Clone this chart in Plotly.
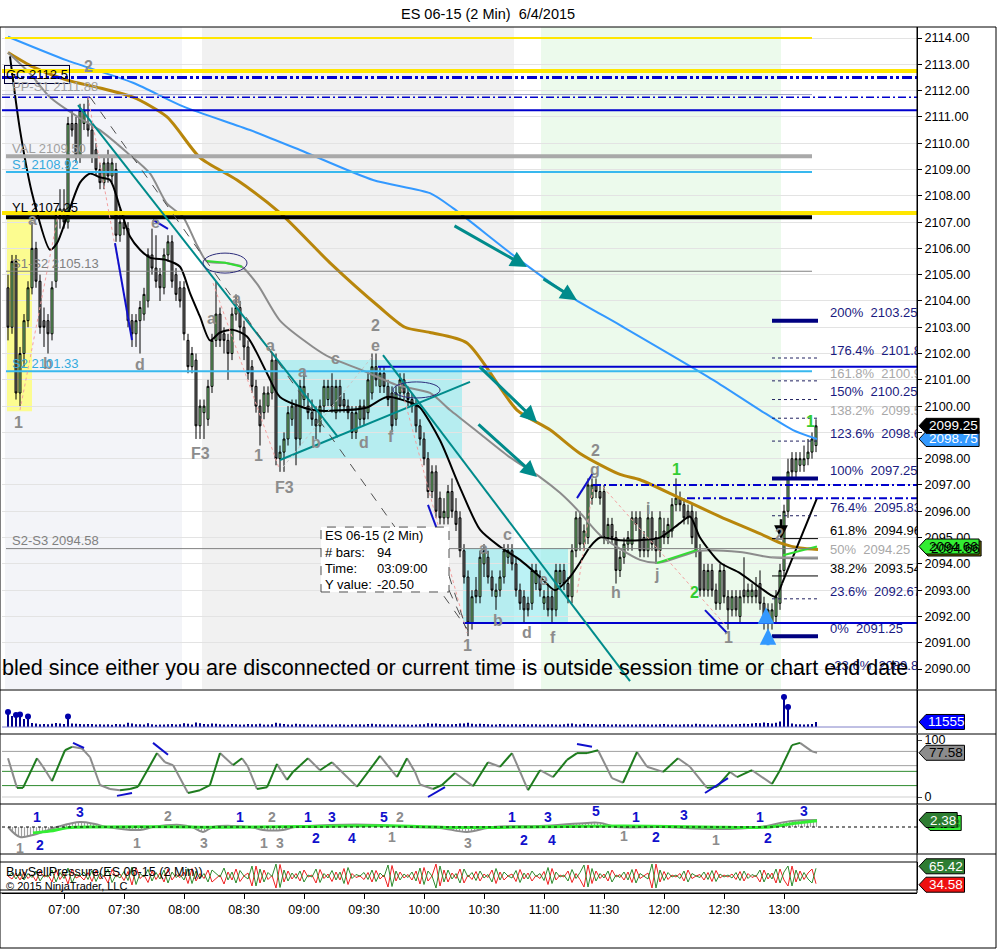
import plotly.graph_objects as go

# ============================ DATA ============================
FIRST_BAR = 392  # 06:32 (minutes after midnight), 2-minute bars

opens = [
    2104.5, 2103, 2105.5, 2100.5, 2102, 2103.25, 2104.5, 2106, 2104.75, 2103.25,
    2103.25, 2102.75, 2104.75, 2107.25, 2107.5, 2107, 2110.75, 2110.75, 2109.5, 2110.75,
    2110.75, 2110.5, 2109.75, 2109, 2108.5, 2109.25, 2108.75, 2109, 2106.5, 2107,
    2106.75, 2103.25, 2102.75, 2103.25, 2103.5, 2104, 2105.75, 2105.25, 2105, 2104.5,
    2105.75, 2106.25, 2105, 2104.5, 2104.5, 2102.5, 2101.5, 2101.75, 2099.25, 2099.75,
    2099.5, 2100.75, 2102.5, 2103.5, 2102.75, 2102.5, 2102, 2103.5, 2103.75, 2103,
    2102.25, 2101.5, 2100.75, 2100, 2099.75, 2100, 2100.5, 2101.75, 2098, 2098.25,
    2098.75, 2099.5, 2100, 2098.75, 2100.25, 2100, 2099.75, 2099.5, 2099.25, 2100,
    2100.25, 2100.75, 2099.75, 2100.75, 2100.25, 2100, 2099.75, 2099, 2099.5, 2100,
    2099.75, 2100.5, 2101.5, 2100.75, 2101.25, 2100.75, 2100.5, 2099.5, 2100.5, 2101,
    2100.5, 2100.25, 2100, 2099.25, 2098.75, 2098, 2096.75, 2097.5, 2096.5, 2095.75,
    2095.75, 2096.75, 2096, 2095.75, 2094.5, 2093.5, 2091.75, 2093, 2092.75, 2094,
    2094.25, 2093.5, 2092.75, 2093, 2093.5, 2094.25, 2094.5, 2094, 2093, 2092.75,
    2092.5, 2092.5, 2093.25, 2093.5, 2092.5, 2092.75, 2092.75, 2092.25, 2093.25, 2093.75,
    2093.25, 2092.75, 2094.5, 2095.75, 2094.75, 2095, 2096.5, 2097, 2096.75, 2096.75,
    2095, 2095.5, 2095, 2093.75, 2094.25, 2094.75, 2094.75, 2095.75, 2095.75, 2095,
    2094.5, 2095.75, 2095, 2094.5, 2095.25, 2095, 2095.25, 2096.25, 2096.5, 2096.25,
    2096, 2096, 2095.75, 2094.5, 2093.75, 2093, 2093.75, 2093, 2092.5, 2093.75,
    2092.75, 2092.25, 2092.75, 2092, 2093, 2092.75, 2092.75, 2093, 2093.25, 2092.5,
    2091.75, 2091.75, 2092, 2092.5, 2093.75, 2096, 2098, 2097.5, 2097.75, 2097.75,
    2098, 2098.25, 2098.5,
]
highs = [
    2105, 2105.75, 2105.75, 2102.25, 2103.5, 2104.75, 2107, 2106.25, 2105, 2103.75,
    2103.5, 2104.75, 2107.5, 2108.25, 2108.25, 2111, 2111.25, 2111, 2111.5, 2111.5,
    2111.75, 2110.75, 2110, 2109.25, 2109.5, 2109.75, 2109.5, 2109.25, 2107.5, 2107.25,
    2107, 2103.5, 2103.5, 2104, 2104.5, 2106, 2106.75, 2106.5, 2105.25, 2106,
    2106.5, 2106.5, 2105.25, 2104.75, 2104.75, 2102.75, 2102.25, 2102, 2100.25, 2100.25,
    2101, 2102.75, 2104.75, 2103.75, 2103, 2102.75, 2103.75, 2104.25, 2104, 2103.25,
    2102.5, 2101.75, 2101, 2100.25, 2100.75, 2100.75, 2102, 2102, 2098.5, 2099,
    2100, 2100.25, 2100.25, 2101, 2101.25, 2100.5, 2100.25, 2100, 2100.25, 2101,
    2101, 2101.25, 2101, 2101, 2100.5, 2100.25, 2100, 2100, 2100.25, 2100.25,
    2101.25, 2102, 2102, 2101.5, 2101.5, 2101, 2100.75, 2100.75, 2101.25, 2101.25,
    2100.75, 2100.5, 2100.25, 2099.5, 2099, 2098.25, 2097.75, 2097.75, 2096.75, 2096.5,
    2097, 2097.25, 2096.5, 2096, 2094.75, 2093.75, 2093, 2093.5, 2094.5, 2094.75,
    2094.5, 2093.75, 2093.25, 2093.75, 2094.75, 2094.75, 2094.75, 2094.25, 2093.25, 2093,
    2092.75, 2094, 2094, 2093.75, 2093, 2093.25, 2093, 2094, 2094, 2094,
    2093.5, 2094.75, 2096, 2096, 2095.5, 2097.25, 2097.25, 2097.25, 2097, 2097,
    2095.75, 2095.75, 2095.25, 2094.5, 2095, 2095.25, 2096, 2096, 2096, 2095.25,
    2096.25, 2096, 2095.25, 2096, 2095.75, 2095.75, 2096.5, 2097.25, 2096.75, 2096.5,
    2096.25, 2096.25, 2096, 2094.75, 2094, 2094, 2094, 2093.25, 2094, 2094,
    2093, 2093, 2093, 2093, 2094.25, 2093.25, 2093.25, 2093.5, 2093.75, 2092.75,
    2092.5, 2092.5, 2093, 2094, 2096.25, 2098, 2098.25, 2098.25, 2098.25, 2098.5,
    2098.75, 2099, 2099.5,
]
lows = [
    2102.5, 2102.75, 2100.25, 2100, 2101.5, 2103, 2104.25, 2104.5, 2102.75, 2102.25,
    2102, 2102.5, 2104.5, 2106.75, 2106.75, 2106.75, 2110.25, 2109.25, 2109.25, 2110.5,
    2110.25, 2109.25, 2108.75, 2108.25, 2108.25, 2108.5, 2108.5, 2106.25, 2106.25, 2106.5,
    2103, 2102.25, 2102.25, 2102, 2103.25, 2103.75, 2105, 2104.5, 2104, 2104.25,
    2105.5, 2104.5, 2104, 2103.75, 2102.5, 2101.25, 2101.25, 2098.75, 2098.75, 2098.75,
    2099.25, 2100.5, 2102.25, 2102.25, 2102, 2101, 2101.75, 2103.25, 2102.5, 2101.75,
    2101, 2100.5, 2099.75, 2098.5, 2099.5, 2099.75, 2100.25, 2097.75, 2097.5, 2097.5,
    2098.5, 2099.25, 2097.75, 2098.5, 2100, 2099.5, 2099.25, 2098.75, 2099, 2099.75,
    2100, 2099.75, 2099.5, 2099.75, 2099.75, 2099.5, 2098.75, 2098.75, 2099.25, 2099.25,
    2099.5, 2100.25, 2100.75, 2100.5, 2100.5, 2100, 2099, 2099.25, 2100.25, 2100.25,
    2100, 2099.75, 2099, 2098.5, 2097.75, 2096.5, 2096.5, 2095.75, 2095.5, 2095.5,
    2095.5, 2095.75, 2095.25, 2094.25, 2093.25, 2091.25, 2091.5, 2092.5, 2092.5, 2093.5,
    2093.25, 2092.75, 2092.25, 2092.75, 2093.25, 2094, 2093.75, 2092.75, 2092.25, 2091.75,
    2092, 2092.25, 2093, 2092.75, 2092.25, 2092, 2091.75, 2092, 2093, 2093,
    2092.5, 2092.5, 2094.25, 2094.5, 2094.5, 2094.75, 2096.25, 2096.5, 2096.25, 2094.75,
    2094.75, 2094.75, 2093.25, 2093.5, 2094, 2094.5, 2094.5, 2095.25, 2094.25, 2094.25,
    2094.25, 2094.5, 2094, 2094.25, 2094.75, 2094.75, 2095, 2096, 2096, 2095.5,
    2095.5, 2094.75, 2094.25, 2092.75, 2092.75, 2092.75, 2092.75, 2092.25, 2092.25, 2092.5,
    2091.5, 2092, 2092, 2091.75, 2092.5, 2092.5, 2092.5, 2092.5, 2092.25, 2091.5,
    2091.25, 2091.5, 2091.75, 2092.25, 2093.5, 2095.75, 2097.25, 2097.25, 2097.5, 2097.5,
    2097.75, 2098, 2098.25,
]
closes = [
    2103, 2105.5, 2100.5, 2102, 2103.25, 2104.5, 2106, 2104.75, 2103, 2103,
    2102.75, 2104.5, 2107.25, 2107.5, 2107, 2110.75, 2110.5, 2109.5, 2111.25, 2111.25,
    2110.5, 2109.5, 2109, 2108.5, 2109.25, 2108.75, 2109.25, 2106.5, 2107, 2106.75,
    2103.25, 2102.75, 2103.25, 2103.75, 2104.25, 2105.75, 2105.25, 2104.75, 2104.5, 2105.75,
    2106.25, 2104.75, 2104.25, 2104, 2102.75, 2101.5, 2102, 2099.25, 2100, 2100,
    2100.75, 2102.5, 2103.5, 2102.5, 2102.5, 2102, 2103.5, 2103.75, 2103, 2102.25,
    2101.25, 2100.75, 2100, 2099.25, 2100.5, 2100.5, 2101.75, 2098, 2098.25, 2098.75,
    2099.75, 2100, 2098.75, 2100.75, 2100.75, 2099.75, 2099.5, 2099.25, 2100, 2100.75,
    2100.75, 2100, 2100.75, 2100, 2100, 2099.75, 2099, 2099.75, 2100, 2099.5,
    2101, 2101.5, 2101, 2101.25, 2100.75, 2100.25, 2099.25, 2100.5, 2101, 2100.5,
    2100.25, 2100, 2099.25, 2098.75, 2098, 2096.75, 2097.5, 2096, 2095.75, 2096,
    2096.75, 2096, 2095.5, 2094.5, 2093.5, 2091.75, 2092.75, 2092.75, 2094.25, 2094.5,
    2093.5, 2093, 2093, 2093.5, 2094.5, 2094.5, 2094, 2093, 2092.5, 2092.25,
    2092.25, 2093.75, 2093.75, 2093, 2092.75, 2092.25, 2092.25, 2093.75, 2093.75, 2093.25,
    2092.75, 2094.5, 2095.75, 2094.75, 2095.25, 2097, 2097, 2096.75, 2096.5, 2095,
    2095.5, 2095, 2093.75, 2094.25, 2094.75, 2095, 2095.75, 2095.5, 2094.5, 2094.5,
    2095.75, 2094.75, 2094.5, 2095.75, 2095, 2095.5, 2096.25, 2096.5, 2096.25, 2095.75,
    2095.75, 2095, 2094.5, 2093, 2093, 2093.75, 2093, 2092.5, 2093.75, 2092.75,
    2092.25, 2092.75, 2092.25, 2092.75, 2092.75, 2093, 2093, 2092.75, 2092.5, 2091.75,
    2092.25, 2092.25, 2092.75, 2093.75, 2096, 2097.5, 2097.5, 2098, 2098, 2098,
    2098.25, 2098.75, 2099.25,
]
volumes = [
    34500, 25300, 27600, 28700, 18400, 24150, 9200, 8100, 6400, 6900,
    6200, 7400, 9000, 7800, 6900, 24150, 8300, 7600, 6800, 6400,
    7100, 6900, 5800, 6300, 5600, 6100, 5400, 7000, 6500, 5900,
    9800, 8200, 6600, 6100, 5900, 8700, 6400, 5200, 6000, 5600,
    6200, 6800, 5900, 6100, 8800, 7300, 5900, 10500, 8600, 7000,
    6400, 8100, 7600, 6200, 5800, 5900, 6700, 6100, 5600, 6000,
    6900, 6400, 6100, 7400, 6000, 5800, 6300, 9600, 7900, 6700,
    6000, 5800, 7200, 6500, 6100, 5500, 5700, 6000, 5900, 6400,
    6000, 5700, 5900, 6200, 5600, 5400, 6100, 5900, 6300, 5800,
    6800, 7600, 6500, 6100, 6000, 5800, 6400, 6000, 5900, 5500,
    5700, 5300, 5800, 6200, 6500, 8400, 7600, 8000, 7000, 6600,
    6200, 6400, 7100, 7900, 8300, 9500, 7600, 6300, 7400, 6800,
    6600, 6000, 5800, 6900, 6300, 5900, 6100, 6400, 6000, 6800,
    5700, 6200, 6300, 5600, 5900, 6500, 6200, 5700, 5800, 6400,
    7200, 7800, 6600, 6000, 7400, 6900, 6200, 5800, 6100, 6900,
    6000, 5700, 6400, 5900, 5600, 6200, 6000, 5800, 6400, 6100,
    5500, 5700, 6000, 6300, 6800, 5900, 5600, 6000, 5800, 6600,
    6200, 5900, 7300, 6400, 6100, 5800, 6000, 5700, 6200, 6600,
    5900, 6100, 6500, 6900, 7400, 6800, 8100, 9200, 8600, 10400,
    9000, 8200, 9600, 12400, 69000, 46000, 7800, 6600, 6200, 5900,
    6400, 7000, 11555,
]
vol_dot_bars = [0, 2, 3, 5, 15, 194, 195]
buy_pressure = [
    50, 56, 44, 58, 42, 55, 47, 60, 40, 52,
    48, 62, 38, 57, 45, 66, 36, 54, 50, 58,
    43, 61, 39, 56, 49, 64, 37, 52, 46, 59,
    41, 68, 33, 55, 48, 63, 40, 57, 44, 62,
    36, 58, 47, 53, 42, 65, 35, 60, 45, 55,
    38, 62, 55, 48, 66, 42, 58, 36, 61, 50,
    44, 70, 30, 64, 38, 57, 49, 74, 27, 62,
    40, 56, 45, 60, 38, 52, 48, 64, 37, 55,
    46, 61, 42, 58, 35, 67, 45, 53, 50, 57,
    43, 62, 39, 56, 48, 72, 29, 60, 42, 54,
    47, 58, 40, 66, 33, 60, 50, 26, 70, 38,
    62, 44, 55, 36, 64, 48, 57, 41, 60, 46,
    53, 38, 65, 42, 58, 50, 46, 61, 37, 56,
    44, 60, 49, 55, 41, 67, 35, 58, 48, 52,
    40, 63, 45, 57, 72, 28, 65, 40, 55, 46,
    60, 38, 52, 47, 58, 42, 63, 36, 55, 49,
    44, 74, 26, 62, 41, 57, 48, 52, 45, 60,
    38, 55, 50, 47, 58, 43, 61, 39, 54, 48,
    52, 46, 57, 41, 60, 45, 53, 49, 62, 38,
    56, 44, 64, 36, 58, 70, 30, 62, 40, 57,
    44, 36, 65.42,
]
times = [FIRST_BAR + 2 * i for i in range(len(closes))]

# moving averages (vertices; x in minutes after midnight)
ma_blue_t = [392, 421.5, 454.5, 479.5, 513, 538, 574.5, 603, 614.5, 646.5, 674.5, 698, 744.5, 768, 784.5, 796.5]
ma_blue_v = [2114.05, 2113.15, 2112.3, 2111.4, 2110.5, 2109.74, 2108.6, 2108.1, 2107.53, 2105.63, 2104.11, 2103.08, 2101.0, 2099.85, 2099.09, 2098.75]
ma_brown_t = [392, 404.5, 421.5, 438, 454.5, 471.5, 488, 506.5, 528, 553, 578, 590.5, 603, 621.5, 646.5, 663, 678, 698, 708, 728, 748, 768, 778, 788, 797]
ma_brown_v = [2113.45, 2112.9, 2112.4, 2112.1, 2111.75, 2111.0, 2109.45, 2108.6, 2107.35, 2105.45, 2103.75, 2103.0, 2102.8, 2102.4, 2099.85, 2099.1, 2098.2, 2097.4, 2097.2, 2096.5, 2095.8, 2095.15, 2094.8, 2094.6, 2094.55]
ma_gray_t = [392, 403, 413, 428, 438, 451.5, 463, 471.5, 479.5, 486, 491.5, 500.5, 509, 517, 528, 544.5, 553, 569.5, 586.5, 603, 613, 628, 643, 658, 668, 678, 688, 708, 718, 738, 758, 773, 797]
ma_gray_v = [2113.45, 2112.65, 2111.75, 2110.95, 2110.5, 2109.65, 2108.85, 2107.7, 2107.2, 2106.2, 2105.5, 2105.45, 2105.3, 2104.6, 2103.25, 2102.25, 2101.85, 2101.35, 2100.8, 2100.5, 2099.85, 2098.95, 2098.05, 2097.3, 2096.7, 2095.95, 2095.1, 2094.15, 2094.05, 2094.5, 2094.45, 2094.25, 2094.2]
ma_black_t = [393, 398, 404.5, 413, 416.5, 421.5, 428, 433, 438, 443, 448, 453, 458, 463, 471.5, 478, 483, 488, 493, 498, 504.5, 511.5, 521.5, 528, 544.5, 561.5, 571.5, 581.5, 594.5, 598, 608, 618, 628, 638, 648, 658, 665.5, 673, 678, 683, 688, 698, 708, 718, 728, 733, 738, 748, 758, 768, 775.5, 779]
ma_black_v = [2113.3, 2110.5, 2107.95, 2105.95, 2106.2, 2107.2, 2108.5, 2108.85, 2108.7, 2108.6, 2107.55, 2106.45, 2105.95, 2105.65, 2105.55, 2105.3, 2104.3, 2103.4, 2102.5, 2102.8, 2102.9, 2102.65, 2101.25, 2100.35, 2099.85, 2099.85, 2099.95, 2100.35, 2100.1, 2099.95, 2098.7, 2096.9, 2095.3, 2094.65, 2094.15, 2093.5, 2093.0, 2093.5, 2094.05, 2094.65, 2095.0, 2094.9, 2094.9, 2095.0, 2095.55, 2095.8, 2095.0, 2094.05, 2093.65, 2093.1, 2092.75, 2093.25]
green_seg_t = [[491.5, 500.5, 509], [716.5, 736.5], [779.5, 796.5]]
green_seg_v = [[2105.52, 2105.45, 2105.3], [2094.03, 2094.53], [2094.33, 2094.66]]

# oscillator panel
osc_t = [392, 396.5, 399.5, 406.5, 409.5, 414, 420.5, 424, 429, 433, 438, 443, 448, 453, 457, 466.5, 470.5, 474.5, 482, 488, 493, 498, 504.5, 509, 512, 516.5, 521.5, 526.5, 531.5, 534.5, 542, 548, 554, 566.5, 578, 586.5, 591.5, 595.5, 598, 604.5, 609, 615.5, 624.5, 632, 638, 644, 652, 658, 664.5, 671.5, 676.5, 681.5, 687, 694, 699.5, 706.5, 711.5, 719.5, 727, 733, 741.5, 746.5, 753, 756.5, 764, 774, 778, 784, 788, 794, 796.5]
osc_v = [68, 16, 16, 68, 53, 28, 82, 88, 85, 70, 21, 14, 12, 14, 18, 77, 61, 56, 7, 12, 21, 77, 56, 68, 53, 14, 17, 58, 30, 44, 68, 47, 61, 18, 72, 35, 68, 44, 22, 14, 21, 42, 19, 61, 53, 77, 12, 47, 35, 65, 77, 77, 82, 33, 25, 79, 53, 44, 68, 53, 16, 18, 44, 35, 47, 23, 47, 91, 95, 80, 77.58]
osc_levels_gray = [80, 55, 0]
osc_levels_green = [45, 20]

# momentum panel
mom_gray_t = [392, 398, 404.5, 410.5, 416.5, 428, 435.5, 441.5, 458, 464.5, 478, 484, 489.5, 494.5, 513, 519.5, 529.5, 535.5, 553, 578, 593, 608, 621.5, 634.5, 658, 681.5, 688, 696.5, 718, 746.5, 768, 783, 796.5]
mom_gray_v = [0, -3.4, -2.7, -1.4, 0, 1.7, 1.0, 0, -1.0, 0, 0.7, 0, -1.7, 0, 0, -1.0, -1.0, 0, 0.7, 0.7, 0, -0.3, -1.7, 0, 0.3, 1.4, 1.4, 0, 0, -0.7, 0, 2.0, 2.38]
mom_green_t = [404.5, 413, 421.5, 438, 470, 500, 540, 580, 620, 660, 700, 740, 773, 783, 796.5]
mom_green_v = [-2.0, -1.4, -0.3, 0, 0.1, -0.1, 0.2, 0.4, -0.2, 0.1, 0.3, 0, 0, 1.0, 2.1]
mom_labels = [
    (406.5, 3.4, '1', 'b'), (408, -6.1, '2', 'b'), (398, -7.2, '1', 'g'), (428, 5.2, '3', 'b'),
    (456.5, -5.4, '1', 'g'), (472, 3.7, '2', 'g'), (490, -5.4, '3', 'g'), (508, 3.4, '1', 'b'),
    (524, 3.4, '2', 'g'), (520, -5.4, '1', 'g'), (528, -5.4, '3', 'g'), (542, 3.4, '1', 'b'),
    (554, 3.4, '3', 'b'), (546, -3.7, '2', 'b'), (564, -3.7, '4', 'b'), (580, 3.4, '5', 'b'),
    (588, 3.4, '2', 'g'), (584, -3.4, '1', 'g'), (622, -5.4, '3', 'g'), (644, 3.4, '1', 'b'),
    (650, -4.4, '2', 'b'), (662, 3.4, '3', 'b'), (664, -4.4, '4', 'b'), (686, 5.4, '5', 'b'),
    (700, -3.1, '1', 'g'), (706, 3.4, '1', 'b'), (716, -3.4, '2', 'b'), (730, 4.1, '3', 'b'),
    (746, -4.4, '1', 'g'), (768, 3.4, '1', 'b'), (772, -3.7, '2', 'b'), (790, 5.4, '3', 'b'),
]

# swing labels on the price panel (minute, price, text, colour key)
swing_labels = [
    (397, 2099.39, '1', 'g'), (432, 2112.9, '2', 'g'), (404, 2107.08, 'a', 'g'), (412, 2101.64, 'b', 'g'),
    (458, 2101.6, 'd', 'g'), (465.5, 2107.0, 'e', 'g'), (493.5, 2103.35, 'a', 'g'), (506, 2104.1, 'a', 'g'),
    (488, 2098.2, 'F3', 'g'), (523, 2102.3, 'a', 'g'), (517, 2098.14, '1', 'g'), (530, 2096.9, 'F3', 'g'),
    (539, 2101.3, 'a', 'g'), (546, 2098.6, 'b', 'g'), (555.5, 2101.8, 'c', 'g'), (570, 2098.6, 'd', 'g'),
    (575.5, 2102.3, 'e', 'g'), (575.5, 2103.05, '2', 'g'), (583.5, 2098.86, 'f', 'g'), (621.5, 2090.9, '1', 'g'),
    (629.5, 2094.6, 'a', 'g'), (637, 2091.86, 'b', 'g'), (641.5, 2095.1, 'c', 'g'), (651.5, 2091.4, 'd', 'g'),
    (659.5, 2093.4, 'e', 'g'), (664.5, 2091.2, 'f', 'g'), (685.5, 2098.3, '2', 'g'), (685.5, 2097.6, 'g', 'g'),
    (696, 2092.9, 'h', 'g'), (712, 2096.1, 'i', 'g'), (716, 2093.6, 'j', 'g'), (726, 2097.6, '1', 'G'),
    (735, 2092.9, '2', 'G'), (752, 2091.2, '1', 'g'), (777.5, 2095.1, '2', 'g'), (793, 2099.4, '1', 'G'),
]

# Fibonacci extension (low 2091.25 -> high 2097.25)
fib_pcts = ['200%', '176.4%', '161.8%', '150%', '138.2%', '123.6%', '100%', '76.4%', '61.8%', '50%', '38.2%', '23.6%', '0%', '-23.6%']
fib_levels = [2103.25, 2101.83, 2100.96, 2100.25, 2099.54, 2098.67, 2097.25, 2095.83, 2094.96, 2094.25, 2093.54, 2092.67, 2091.25, 2089.83]

tick_minutes = [420, 450, 480, 510, 540, 570, 600, 630, 660, 690, 720, 750, 780]
tick_text = ['07:00', '07:30', '08:00', '08:30', '09:00', '09:30', '10:00', '10:30', '11:00', '11:30', '12:00', '12:30', '13:00']
price_ticks = list(range(2090, 2115))

# ============================ LAYOUT GEOMETRY ============================
W, H = 997, 949
L_PX, R_PX, T_PX, B_PX = 2, 917, 27, 893
X_RANGE = [389, 846.5]
MAIN_RANGE = [2089.24, 2114.42]
VOL_RANGE = [-13800, 85100]
OSC_RANGE = [-12.28, 108.77]
MOM_RANGE = [-8.84, 7.48]
BSP_RANGE = [22, 78]
PANELS = {'y': (27, 689), 'y2': (690, 733), 'y3': (735, 804), 'y4': (805, 853), 'y5': (862, 890)}
RANGES = {'y': MAIN_RANGE, 'y2': VOL_RANGE, 'y3': OSC_RANGE, 'y4': MOM_RANGE, 'y5': BSP_RANGE}


def fx(px):
    return (px - L_PX) / (R_PX - L_PX)


def fy(py):
    return (B_PX - py) / (B_PX - T_PX)


def dom(key):
    top, bot = PANELS[key]
    return [fy(bot), fy(top)]


def val_px(key, v):
    top, bot = PANELS[key]
    r0, r1 = RANGES[key]
    return bot - (v - r0) / (r1 - r0) * (bot - top)


FONT = 'Arial, Liberation Sans, sans-serif'
GRAY_LBL = '#8C8C8C'
NAVY = '#0000CD'
TEAL = '#008B8B'
X_END = X_RANGE[1]

shapes = []
annotations = []


def hline(y, x0, x1, color, width, dash='solid', yref='y', layer='above'):
    shapes.append(dict(type='line', xref='x', yref=yref, x0=x0, x1=x1, y0=y, y1=y,
                       line=dict(color=color, width=width, dash=dash), layer=layer))


def seg(x0, y0, x1, y1, color, width, dash='solid', yref='y'):
    shapes.append(dict(type='line', xref='x', yref=yref, x0=x0, y0=y0, x1=x1, y1=y1,
                       line=dict(color=color, width=width, dash=dash), layer='above'))


def rect(x0, x1, y0, y1, fill, layer='below', line=None, yref='y'):
    shapes.append(dict(type='rect', xref='x', yref=yref, x0=x0, x1=x1, y0=y0, y1=y1,
                       fillcolor=fill, line=line or dict(width=0), layer=layer))


def text(x, y, s, color='black', size=13, bold=False, xanchor='left', yanchor='middle', yref='y', xref='x', **kw):
    annotations.append(dict(x=x, y=y, xref=xref, yref=yref, text=('<b>%s</b>' % s) if bold else s,
                            showarrow=False, xanchor=xanchor, yanchor=yanchor,
                            font=dict(family=FONT, size=size, color=color), **kw))


def paper_line(x0, y0, x1, y1, color='black', width=1):
    shapes.append(dict(type='line', xref='paper', yref='paper', x0=fx(x0), y0=fy(y0), x1=fx(x1), y1=fy(y1),
                       line=dict(color=color, width=width), layer='above'))


def value_box(ypx, s, fill, fcolor, xtip=919, dx=0):
    w = 9 + 7.3 * len(s)
    h = 15
    x0, x1, x2 = xtip + dx, xtip + dx + 7, xtip + dx + w
    path = 'M %f,%f L %f,%f L %f,%f L %f,%f L %f,%f Z' % (
        fx(x0), fy(ypx), fx(x1), fy(ypx - h / 2), fx(x2), fy(ypx - h / 2),
        fx(x2), fy(ypx + h / 2), fx(x1), fy(ypx + h / 2))
    shapes.append(dict(type='path', xref='paper', yref='paper', path=path, fillcolor=fill,
                       line=dict(color='black', width=1), layer='above'))
    annotations.append(dict(xref='paper', yref='paper', x=fx((x1 + x2) / 2 + 1), y=fy(ypx), text=s,
                            showarrow=False, xanchor='center', yanchor='middle',
                            font=dict(family=FONT, size=13.5, color=fcolor)))


# ---------------- background bands / boxes (price panel) ----------------
rect(390.5, 479, MAIN_RANGE[0], MAIN_RANGE[1], '#F3F4F8')
rect(489, 645, MAIN_RANGE[0], MAIN_RANGE[1], '#F1F1F1')
rect(658.5, 778.5, MAIN_RANGE[0], MAIN_RANGE[1], '#ECFAEC')
rect(391.5, 404, 2099.8, 2107.2, 'rgba(255,255,110,0.75)')
rect(525.5, 619, 2098.0, 2101.75, 'rgba(150,235,240,0.65)')
rect(619.5, 672, 2091.75, 2094.6, 'rgba(150,235,240,0.65)')

# ---------------- horizontal levels ----------------
LV_END = 794
hline(2114.0, 390.5, LV_END, '#FFE600', 2)
hline(2112.75, 389, X_END, '#FFE600', 4)
hline(2112.5, 389, X_END, NAVY, 3, '10px,3px,3px,3px,3px,3px')
hline(2111.85, 389, LV_END, '#A0A4C8', 1)
hline(2111.75, 389, X_END, NAVY, 1.5, '8px,3px,2px,3px')
hline(2111.25, 389, X_END, NAVY, 2)
hline(2109.5, 391, LV_END, '#A9A9A9', 4)
hline(2108.9, 391, LV_END, '#38B8EE', 2)
hline(2107.35, 389, X_END, '#FFE600', 4)
hline(2107.18, 391, LV_END, '#000000', 4)
hline(2105.13, 391, LV_END, '#808080', 1)
hline(2101.33, 391, LV_END, '#38B8EE', 2)
hline(2101.5, 577, X_END, NAVY, 2)
hline(2097.0, 684.5, X_END, NAVY, 2, '8px,3px,2px,3px')
hline(2096.5, 731.5, X_END, NAVY, 2, '8px,3px,2px,3px')
hline(2094.58, 391, LV_END, '#808080', 1)
hline(2091.75, 619.5, X_END, NAVY, 2)

# fib lines
fib_style = {'200%': ('#000080', 4, 'solid'), '100%': ('#000080', 4, 'solid'), '0%': ('#000080', 4, 'solid'),
             '61.8%': ('#000000', 1, 'solid'), '38.2%': ('#000000', 1, 'solid'), '50%': ('#999999', 1.5, 'solid')}
fib_text_col = {'161.8%': '#A8A8A8', '138.2%': '#A8A8A8', '50%': '#A8A8A8', '61.8%': '#000000', '38.2%': '#000000'}
for pct, lv in zip(fib_pcts, fib_levels):
    col, wd, ds = fib_style.get(pct, ('#202060', 1, 'dot'))
    hline(lv, 774, 797, col, wd, ds)

# ---------------- drawings ----------------
# teal trend lines
seg(427, 2111.45, 557, 2098.82, TEAL, 2)
seg(528, 2097.95, 623, 2100.92, TEAL, 2)
seg(579.5, 2101.94, 703, 2089.54, TEAL, 2)
# zigzag / measuring lines
seg(398, 2099.85, 417, 2107.27, '#F4A0A0', 1, 'dot')
seg(432, 2111.76, 454, 2102.51, '#F4A0A0', 1, 'dot')
seg(494.5, 2104.68, 527.5, 2097.64, '#F4A0A0', 1, 'dot')
seg(529.5, 2097.68, 574, 2101.87, '#C8C8C8', 1, 'dot')
seg(588, 2100.88, 621.5, 2091.37, '#F4A0A0', 1, 'dot')
seg(689.5, 2096.92, 751.5, 2091.6, '#F4A0A0', 1, 'dot')
seg(676.5, 2092.9, 684.5, 2096.9, '#F4A0A0', 1, 'dot')
seg(433, 2111.76, 622, 2091.48, '#505050', 1, 'dash')
seg(612.5, 2093.55, 621, 2091.56, '#505050', 1, 'dash')
seg(612.5, 2093.0, 621, 2091.56, '#505050', 1, 'dash')
# blue divergence marks
seg(445.5, 2106.2, 454, 2102.51, '#1010CC', 2)
seg(464.5, 2107.08, 472, 2106.74, '#1010CC', 2)
seg(602, 2096.24, 610, 2094.6, '#1010CC', 2)
seg(676.5, 2096.5, 684.5, 2097.45, '#1010CC', 2)
seg(740.5, 2092.24, 751.5, 2091.37, '#1010CC', 2)
# ellipses
shapes.append(dict(type='circle', xref='x', yref='y', x0=489.5, x1=511.5, y0=2105.06, y1=2105.82,
                   line=dict(color='#2B2B7A', width=1), layer='above'))
shapes.append(dict(type='circle', xref='x', yref='y', x0=584.5, x1=608, y0=2100.31, y1=2100.92,
                   line=dict(color='#2B2B7A', width=1), layer='above'))
# info box
rect(548.5, 612.5, 2092.93, 2095.4, 'white', layer='above', line=dict(color='#505050', width=1, dash='dash'))

# arrows
for (hx, hy, tx, ty, col, wd) in [(651.5, 2105.29, 614.5, 2106.89, TEAL, 3), (676.5, 2104.03, 659, 2104.87, TEAL, 3),
                                  (656.5, 2099.39, 627, 2101.56, TEAL, 3), (656.5, 2097.3, 626.5, 2099.36, TEAL, 3),
                                  (778.5, 2094.95, 778.5, 2095.75, '#000000', 2.5),
                                  (771, 2092.35, 771, 2091.7, '#3399FF', 3), (772, 2091.55, 772, 2090.85, '#3399FF', 3)]:
    annotations.append(dict(x=hx, y=hy, ax=tx, ay=ty, xref='x', yref='y', axref='x', ayref='y', text='',
                            showarrow=True, arrowhead=2, arrowsize=1.1, arrowwidth=wd, arrowcolor=col))

# ---------------- texts on price panel ----------------
lbl_col = {'g': GRAY_LBL, 'G': '#33CC33'}
for (t, p, s, c) in swing_labels:
    text(t, p, s, color=lbl_col[c], size=16, bold=True, xanchor='center')

text(390, 2112.6, 'GC 2112.5', color='black', size=13, bordercolor='#000033', borderwidth=1, borderpad=1)
text(393, 2112.14, 'PP-S1 2111.88', color='#A0A0A0')
text(393, 2109.78, 'VAL 2109.50', color='#A0A0A0')
text(393, 2109.2, 'S1 2108.92', color='#33AADD')
text(393, 2107.57, 'YL 2107.25', color='black')
text(393, 2105.44, 'S1-S2 2105.13', color='#808080')
text(393, 2101.64, 'S2 2101.33', color='#33AADD')
text(393, 2094.87, 'S2-S3 2094.58', color='#808080')

text(549.5, 2095.06, 'ES 06-15 (2 Min)')
text(549.5, 2094.45, '# bars:')
text(575.5, 2094.45, '94')
text(549.5, 2093.84, 'Time:')
text(575.5, 2093.84, '03:09:00')
text(549.5, 2093.23, 'Y value:')
text(575.5, 2093.23, '-20.50')

text(843, 2090.05, 'bled since either you are disconnected or current time is outside session time or chart end date',
     color='black', size=21.6, xanchor='right')

# ============================ TRACES ============================
fig = go.Figure()

fig.add_trace(go.Candlestick(
    x=times, open=opens, high=highs, low=lows, close=closes,
    increasing=dict(fillcolor='#90EE90', line=dict(color='#000000', width=1)),
    decreasing=dict(fillcolor='#7F7F7F', line=dict(color='#000000', width=1)),
    whiskerwidth=0, hoverinfo='skip', showlegend=False, xaxis='x', yaxis='y'))

for (tt, vv, col, wd) in [(ma_blue_t, ma_blue_v, '#3399FF', 2), (ma_brown_t, ma_brown_v, '#B8860B', 3),
                          (ma_gray_t, ma_gray_v, '#8C8C8C', 2), (ma_black_t, ma_black_v, '#000000', 2)]:
    fig.add_trace(go.Scatter(x=tt, y=vv, mode='lines', line=dict(color=col, width=wd, shape='spline', smoothing=0.7),
                             hoverinfo='skip', showlegend=False, xaxis='x', yaxis='y'))
# straight black extension to the last bar
fig.add_trace(go.Scatter(x=[ma_black_t[-1], 796.5], y=[ma_black_v[-1], 2096.5], mode='lines',
                         line=dict(color='#000000', width=2), hoverinfo='skip', showlegend=False))
for tt, vv in zip(green_seg_t, green_seg_v):
    fig.add_trace(go.Scatter(x=tt, y=vv, mode='lines', line=dict(color='#33DD33', width=2),
                             hoverinfo='skip', showlegend=False, xaxis='x', yaxis='y'))

# fib labels (clipped at the price axis)
fig.add_trace(go.Scatter(
    x=[803] * len(fib_levels), y=fib_levels, mode='text',
    text=['%s  %.2f' % (p, v) for p, v in zip(fib_pcts, fib_levels)],
    textposition='top right', cliponaxis=True,
    textfont=dict(family=FONT, size=13, color=[fib_text_col.get(p, '#1A1A80') for p in fib_pcts]),
    hoverinfo='skip', showlegend=False, xaxis='x', yaxis='y'))

# volume
fig.add_trace(go.Bar(x=times, y=volumes, width=0.9, marker=dict(color='#00008B', line=dict(width=0)),
                     hoverinfo='skip', showlegend=False, xaxis='x', yaxis='y2'))
fig.add_trace(go.Scatter(x=[times[i] for i in vol_dot_bars], y=[volumes[i] for i in vol_dot_bars], mode='markers',
                         marker=dict(color='#0000AA', size=6), hoverinfo='skip', showlegend=False,
                         xaxis='x', yaxis='y2'))

# oscillator (green when rising, gray when falling)
gx, gyv, rx, ryv = [], [], [], []
for i in range(len(osc_t) - 1):
    if osc_v[i + 1] >= osc_v[i]:
        gx += [osc_t[i], osc_t[i + 1], None]
        gyv += [osc_v[i], osc_v[i + 1], None]
    else:
        rx += [osc_t[i], osc_t[i + 1], None]
        ryv += [osc_v[i], osc_v[i + 1], None]
fig.add_trace(go.Scatter(x=rx, y=ryv, mode='lines', line=dict(color='#8C8C8C', width=2),
                         hoverinfo='skip', showlegend=False, xaxis='x', yaxis='y3'))
fig.add_trace(go.Scatter(x=gx, y=gyv, mode='lines', line=dict(color='#1E7B1E', width=2),
                         hoverinfo='skip', showlegend=False, xaxis='x', yaxis='y3'))
for lv in osc_levels_gray:
    hline(lv, X_RANGE[0], X_END, '#A0A0A0' if lv else '#CFCFCF', 1, yref='y3', layer='below')
for lv in osc_levels_green:
    hline(lv, X_RANGE[0], X_END, '#2E8B2E', 1, yref='y3', layer='below')
for (x0, y0, x1, y1) in [(424.5, 95, 430, 86), (446.5, 2, 454, 7), (464.5, 95, 472, 74),
                         (602, 0, 610.5, 17.5), (676.5, 93, 684, 88), (740.5, 7, 752, 33)]:
    seg(x0, y0, x1, y1, '#1010CC', 2, yref='y3')

# momentum panel
fig.add_trace(go.Scatter(x=mom_gray_t, y=mom_gray_v, mode='lines', line=dict(color='#8C8C8C', width=2, shape='spline'),
                         fill='tozeroy', fillcolor='rgba(0,0,0,0)',
                         fillpattern=dict(shape='|', fgcolor='#404040', bgcolor='rgba(255,255,255,0)', size=3, solidity=0.4),
                         hoverinfo='skip', showlegend=False, xaxis='x', yaxis='y4'))
fig.add_trace(go.Scatter(x=mom_green_t, y=mom_green_v, mode='lines', line=dict(color='#33EE33', width=3, shape='spline'),
                         hoverinfo='skip', showlegend=False, xaxis='x', yaxis='y4'))
hline(0, X_RANGE[0], X_END, '#000000', 1, dash='dot', yref='y4')
for (t, v, s, c) in mom_labels:
    text(t, v, s, color='#1010CC' if c == 'b' else '#8C8C8C', size=14, bold=True, xanchor='center', yref='y4')

# buy / sell pressure
fig.add_trace(go.Scatter(x=times, y=[100 - b for b in buy_pressure], mode='lines', line=dict(color='#EE2222', width=1),
                         hoverinfo='skip', showlegend=False, xaxis='x', yaxis='y5'))
fig.add_trace(go.Scatter(x=times, y=buy_pressure, mode='lines', line=dict(color='#2E8B2E', width=1),
                         hoverinfo='skip', showlegend=False, xaxis='x', yaxis='y5'))
text(fx(4), fy(872), 'BuySellPressure(ES 06-15 (2 Min))', size=12.6, xref='paper', yref='paper')
text(fx(4), fy(886), '\u00a9 2015 NinjaTrader, LLC', size=11, xref='paper', yref='paper')

# volume baseline
hline(0, X_RANGE[0], X_END, '#8080C8', 1, yref='y2')

# ---------------- frame / separators ----------------
paper_line(0, 27, 996, 27)
paper_line(0, 27, 0, 948)
paper_line(996, 27, 996, 948)
paper_line(0, 948, 996, 948)
for ypx in [690, 734, 804, 854]:
    paper_line(0, ypx, 996, ypx)
for ypx in [862, 890, 893]:
    paper_line(0, ypx, R_PX, ypx)
paper_line(R_PX, 27, R_PX, 893)

# ---------------- right-hand value boxes ----------------
value_box(val_px('y', ma_blue_v[-1]), '%.2f' % ma_blue_v[-1], '#3399FF', 'white')
value_box(val_px('y', closes[-1]), '%.2f' % closes[-1], '#000000', 'white')
value_box(val_px('y', green_seg_v[-1][-1]) + 2, '%.2f' % green_seg_v[-1][-1], '#6B6B00', 'black', dx=2)
value_box(val_px('y', green_seg_v[-1][-1]), '%.2f' % green_seg_v[-1][-1], '#33EE33', 'black')
value_box(val_px('y2', volumes[-1]), '%d' % volumes[-1], '#0000FF', 'white')
value_box(val_px('y3', osc_v[-1]), '%.2f' % osc_v[-1], '#8C8C8C', 'black')
value_box(val_px('y4', mom_gray_v[-1]) + 3, '%.2f' % mom_gray_v[-1], '#33EE33', '#1E7B1E', dx=4)
value_box(val_px('y4', mom_gray_v[-1]), '%.2f' % mom_gray_v[-1], '#2E7D32', 'white')
value_box(val_px('y5', buy_pressure[-1]) - 2, '%.2f' % buy_pressure[-1], '#2E7D32', 'white')
value_box(val_px('y5', 100 - buy_pressure[-1]) + 1, '%.2f' % (100 - buy_pressure[-1]), '#EE1111', 'white')

# title
text(fx(488), fy(14), 'ES 06-15 (2 Min)  6/4/2015', size=14.5, xanchor='center', xref='paper', yref='paper')

# ============================ AXES ============================
axis_common = dict(side='right', anchor='x', showline=True, linecolor='black', linewidth=1,
                   zeroline=False, fixedrange=True)
fig.update_layout(
    width=W, height=H,
    margin=dict(l=L_PX, r=W - R_PX, t=T_PX, b=H - B_PX, pad=0),
    paper_bgcolor='white', plot_bgcolor='white',
    showlegend=False, hovermode=False,
    font=dict(family=FONT, color='black'),
    xaxis=dict(range=X_RANGE, anchor='free', position=0, tickmode='array', tickvals=tick_minutes,
               ticktext=tick_text, ticks='outside', ticklen=5, tickcolor='black', showline=True,
               linecolor='black', showgrid=False, zeroline=False, tickfont=dict(size=12.5),
               rangeslider=dict(visible=False), fixedrange=True),
    yaxis=dict(domain=dom('y'), range=MAIN_RANGE, tickmode='array', tickvals=price_ticks,
               ticktext=['%d.00' % p for p in price_ticks], ticks='outside', ticklen=4, tickcolor='black',
               showgrid=True, gridcolor='#E3E3E3', gridwidth=1, tickfont=dict(size=12.7), **axis_common),
    yaxis2=dict(domain=dom('y2'), range=VOL_RANGE, showticklabels=False, ticks='', showgrid=False, **axis_common),
    yaxis3=dict(domain=dom('y3'), range=OSC_RANGE, tickmode='array', tickvals=[0, 100], ticktext=['0', '100'],
                ticks='outside', ticklen=4, showgrid=False, tickfont=dict(size=12.5), **axis_common),
    yaxis4=dict(domain=dom('y4'), range=MOM_RANGE, showticklabels=False, ticks='', showgrid=False, **axis_common),
    yaxis5=dict(domain=dom('y5'), range=BSP_RANGE, showticklabels=False, ticks='', showgrid=False, **axis_common),
    shapes=shapes, annotations=annotations,
)

fig.write_html('out.html', config={'displayModeBar': False},
               post_script="document.body.style.margin='0px';document.body.style.overflow='hidden';")
